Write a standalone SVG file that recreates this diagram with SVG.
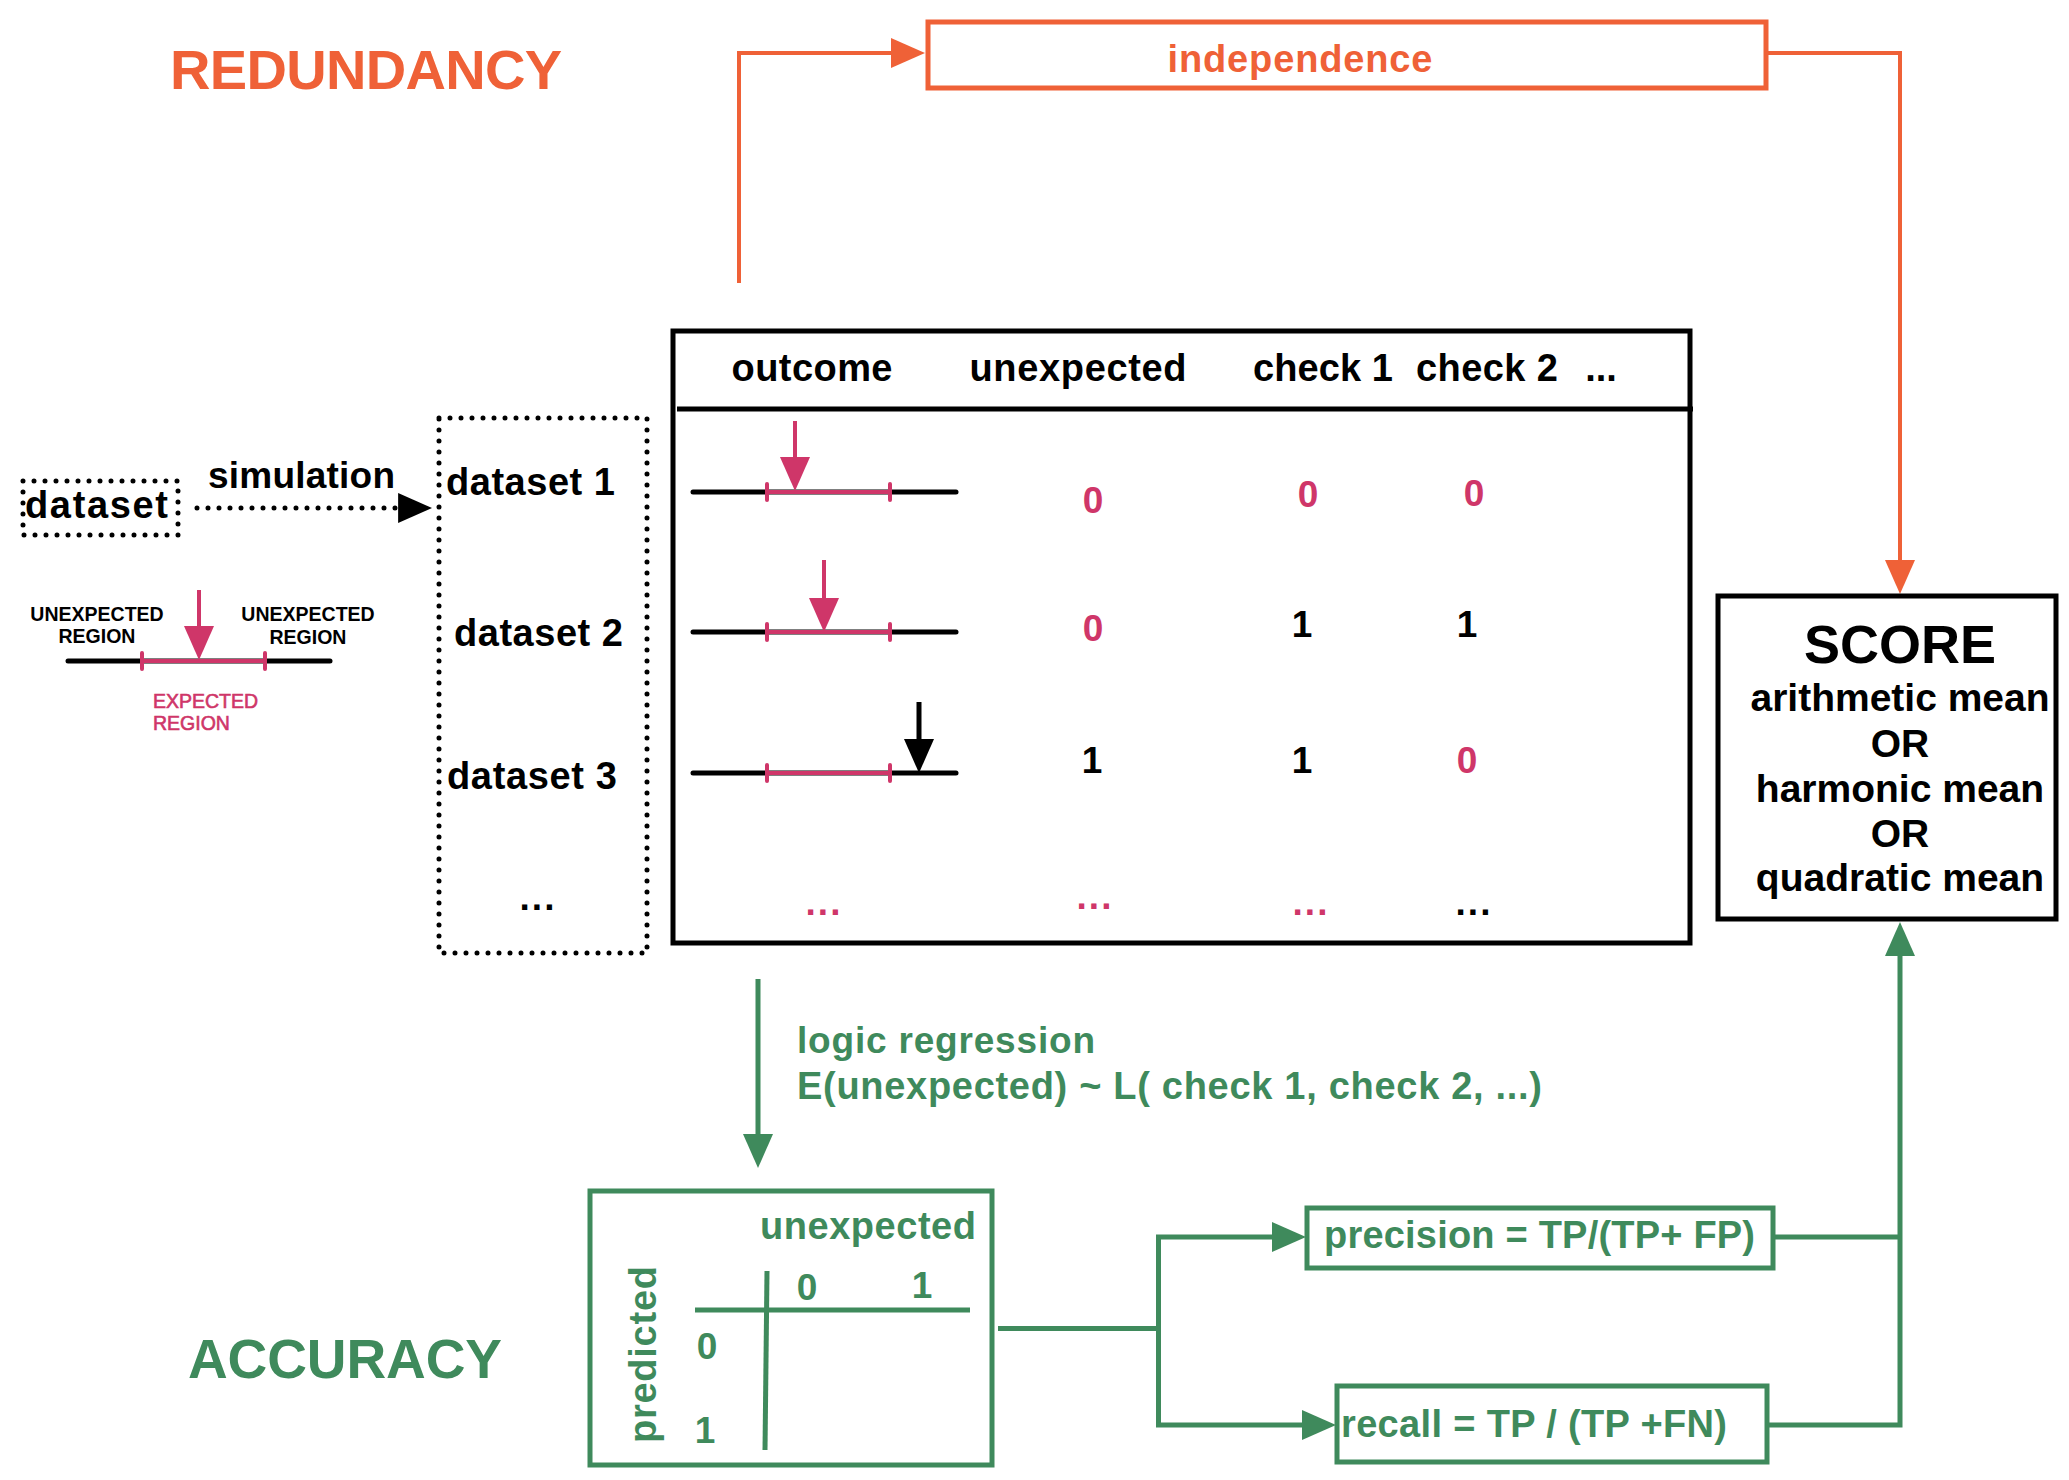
<svg xmlns="http://www.w3.org/2000/svg" width="2069" height="1480" viewBox="0 0 2069 1480">
<style>
  text { font-family: "Liberation Sans", Arial, sans-serif; font-weight: bold; }
  .or { fill: #EF6137; }
  .pk { fill: #CF3669; }
  .gr { fill: #3F8A5C; }
  .bk { fill: #000; }
  .c { text-anchor: middle; }
  .ln-or { fill: none; stroke: #EF6137; stroke-width: 4; }
  .ln-gr { fill: none; stroke: #3F8A5C; stroke-width: 5; }
  .ln-bk { fill: none; stroke: #000; stroke-width: 5; }
  .ln-pk { fill: none; stroke: #CF3669; stroke-width: 4; }
  .dot { fill: none; stroke: #000; stroke-width: 5; stroke-dasharray: 0 11; stroke-linecap: round; }
  .axis { fill: none; stroke: #000; stroke-width: 5; stroke-linecap: round; }
  .seg { fill: none; stroke: #CF3669; stroke-width: 4; stroke-linecap: round; }
  .hdr { font-size: 38px; }
  .val { font-size: 37px; }
  .small { font-size: 19.5px; }
  .med { font-weight: normal; stroke: #CF3669; stroke-width: 0.6px; }
</style>
<defs>
  <marker id="ah-or" markerUnits="userSpaceOnUse" markerWidth="34" markerHeight="30" viewBox="0 0 34 30" refX="4" refY="15" orient="auto"><path d="M0,0 L34,15 L0,30 z" fill="#EF6137"/></marker>
  <marker id="ah-gr" markerUnits="userSpaceOnUse" markerWidth="34" markerHeight="30" viewBox="0 0 34 30" refX="4" refY="15" orient="auto"><path d="M0,0 L34,15 L0,30 z" fill="#3F8A5C"/></marker>
  <marker id="ah-bk" markerUnits="userSpaceOnUse" markerWidth="34" markerHeight="30" viewBox="0 0 34 30" refX="4" refY="15" orient="auto"><path d="M0,0 L34,15 L0,30 z" fill="#000"/></marker>
  <marker id="ah-pk" markerUnits="userSpaceOnUse" markerWidth="34" markerHeight="30" viewBox="0 0 34 30" refX="4" refY="15" orient="auto"><path d="M0,0 L34,15 L0,30 z" fill="#CF3669"/></marker>
</defs>
<rect x="0" y="0" width="2069" height="1480" fill="#fff"/>

<!-- section titles -->
<g id="title-redundancy"><text x="170" y="89" class="or" font-size="56" textLength="392">REDUNDANCY</text></g>
<g id="title-accuracy"><text x="188" y="1378" class="gr" font-size="55" textLength="314">ACCURACY</text></g>

<!-- connectors -->
<g id="connectors">
  <path class="ln-or" d="M739,283 V53 H895" marker-end="url(#ah-or)"/>
  <path class="ln-or" d="M1767,53 H1900 V564" marker-end="url(#ah-or)"/>
  <path class="dot" d="M197,508 H402"/>
  <path d="M402,508 H402.1" fill="none" stroke="none" marker-end="url(#ah-bk)"/>
  <path class="ln-gr" d="M758,979 V1138" marker-end="url(#ah-gr)"/>
  <path class="ln-gr" d="M998,1328.5 H1158.5"/>
  <path class="ln-gr" d="M1158.5,1237 V1425"/>
  <path class="ln-gr" d="M1156,1237 H1276" marker-end="url(#ah-gr)"/>
  <path class="ln-gr" d="M1156,1425 H1306" marker-end="url(#ah-gr)"/>
  <path class="ln-gr" d="M1773,1237 H1900"/>
  <path class="ln-gr" d="M1767,1425 H1900 V952" marker-end="url(#ah-gr)"/>
</g>

<!-- independence -->
<g id="node-independence">
  <rect x="928" y="22" width="838" height="66" fill="none" stroke="#EF6137" stroke-width="5"/>
  <text x="1300" y="72" class="or c" font-size="38" textLength="265">independence</text>
</g>

<!-- dataset -->
<g id="node-dataset">
  <rect x="23" y="481" width="155" height="54" class="dot"/>
  <text x="25" y="518" class="bk" font-size="38" textLength="143">dataset</text>
</g>
<g id="label-simulation"><text x="208" y="488" class="bk" font-size="37" textLength="187">simulation</text></g>

<!-- legend -->
<g id="legend">
  <path class="axis" d="M68,661 H330"/>
  <path class="seg" d="M142,661 H265 M142,653 V669 M265,653 V669"/>
  <path class="ln-pk" d="M199,590 V630" marker-end="url(#ah-pk)"/>
  <text x="97" y="621" class="bk c small">UNEXPECTED</text>
  <text x="97" y="643" class="bk c small">REGION</text>
  <text x="308" y="621" class="bk c small">UNEXPECTED</text>
  <text x="308" y="644" class="bk c small">REGION</text>
  <text x="153" y="708" class="pk small med">EXPECTED</text>
  <text x="153" y="730" class="pk small med">REGION</text>
</g>

<!-- simulated datasets -->
<g id="node-datasets">
  <rect x="439" y="418" width="208" height="535" class="dot"/>
  <text x="446" y="495" class="bk" font-size="38" textLength="169">dataset 1</text>
  <text x="454" y="646" class="bk" font-size="38" textLength="169">dataset 2</text>
  <text x="447" y="789" class="bk" font-size="38" textLength="170">dataset 3</text>
  <text x="538" y="910" class="bk c" font-size="37" letter-spacing="2">...</text>
</g>

<!-- table -->
<g id="node-table">
  <rect x="673" y="331" width="1017" height="612" fill="none" stroke="#000" stroke-width="5"/>
  <path class="ln-bk" d="M677,409 H1693"/>
  <text x="812" y="381" class="bk c hdr" textLength="161">outcome</text>
  <text x="1078" y="381" class="bk c hdr" textLength="217">unexpected</text>
  <text x="1323" y="381" class="bk c hdr" textLength="140">check 1</text>
  <text x="1487" y="381" class="bk c hdr" textLength="142">check 2</text>
  <text x="1601" y="381" class="bk c hdr">...</text>

  <!-- row 1 -->
  <path class="axis" d="M693,492 H956"/>
  <path class="seg" d="M767,492 H890 M767,484 V500 M890,484 V500"/>
  <path class="ln-pk" d="M795,421 V461" marker-end="url(#ah-pk)"/>
  <text x="1093" y="513" class="pk c val">0</text>
  <text x="1308" y="507" class="pk c val">0</text>
  <text x="1474" y="506" class="pk c val">0</text>

  <!-- row 2 -->
  <path class="axis" d="M693,632 H956"/>
  <path class="seg" d="M767,632 H890 M767,624 V640 M890,624 V640"/>
  <path class="ln-pk" d="M824,560 V602" marker-end="url(#ah-pk)"/>
  <text x="1093" y="641" class="pk c val">0</text>
  <text x="1302" y="637" class="bk c val">1</text>
  <text x="1467" y="637" class="bk c val">1</text>

  <!-- row 3 -->
  <path class="axis" d="M693,773 H956"/>
  <path class="seg" d="M767,773 H890 M767,765 V781 M890,765 V781"/>
  <path class="ln-bk" d="M919,702 V743" stroke-width="4" marker-end="url(#ah-bk)"/>
  <text x="1092" y="773" class="bk c val">1</text>
  <text x="1302" y="773" class="bk c val">1</text>
  <text x="1467" y="773" class="pk c val">0</text>

  <!-- row 4 -->
  <text x="824" y="915" class="pk c val" letter-spacing="2">...</text>
  <text x="1095" y="909" class="pk c val" letter-spacing="2">...</text>
  <text x="1311" y="915" class="pk c val" letter-spacing="2">...</text>
  <text x="1474" y="915" class="bk c val" letter-spacing="2">...</text>
</g>

<!-- score -->
<g id="node-score">
  <rect x="1718" y="596" width="338" height="323" fill="none" stroke="#000" stroke-width="5"/>
  <text x="1900" y="663" class="bk c" font-size="54">SCORE</text>
  <text x="1900" y="711" class="bk c" font-size="39">arithmetic mean</text>
  <text x="1900" y="757" class="bk c" font-size="39">OR</text>
  <text x="1900" y="802" class="bk c" font-size="39">harmonic mean</text>
  <text x="1900" y="847" class="bk c" font-size="39">OR</text>
  <text x="1900" y="891" class="bk c" font-size="39">quadratic mean</text>
</g>

<!-- logic regression label -->
<g id="label-logic">
  <text x="797" y="1053" class="gr" font-size="37" textLength="298">logic regression</text>
  <text x="797" y="1099" class="gr" font-size="38" textLength="745">E(unexpected) ~ L( check 1, check 2, ...)</text>
</g>

<!-- confusion matrix -->
<g id="node-confusion">
  <rect x="590" y="1191" width="402" height="274" fill="none" stroke="#3F8A5C" stroke-width="5"/>
  <text x="868" y="1239" class="gr c" font-size="38" textLength="216">unexpected</text>
  <text x="807" y="1300" class="gr c" font-size="37">0</text>
  <text x="922" y="1298" class="gr c" font-size="37">1</text>
  <path class="ln-gr" d="M695,1310 H970"/>
  <path class="ln-gr" d="M767,1271 L765,1450"/>
  <text x="707" y="1359" class="gr c" font-size="37">0</text>
  <text x="705" y="1443" class="gr c" font-size="37">1</text>
  <text transform="translate(656,1443) rotate(-90)" x="0" y="0" class="gr" font-size="38" textLength="177">predicted</text>
</g>

<!-- precision -->
<g id="node-precision">
  <rect x="1307" y="1208" width="466" height="60" fill="none" stroke="#3F8A5C" stroke-width="5"/>
  <text x="1324" y="1248" class="gr" font-size="38" textLength="431">precision = TP/(TP+ FP)</text>
</g>

<!-- recall -->
<g id="node-recall">
  <rect x="1337" y="1386" width="430" height="76" fill="none" stroke="#3F8A5C" stroke-width="5"/>
  <text x="1341" y="1437" class="gr" font-size="38" textLength="386">recall = TP / (TP +FN)</text>
</g>
</svg>
